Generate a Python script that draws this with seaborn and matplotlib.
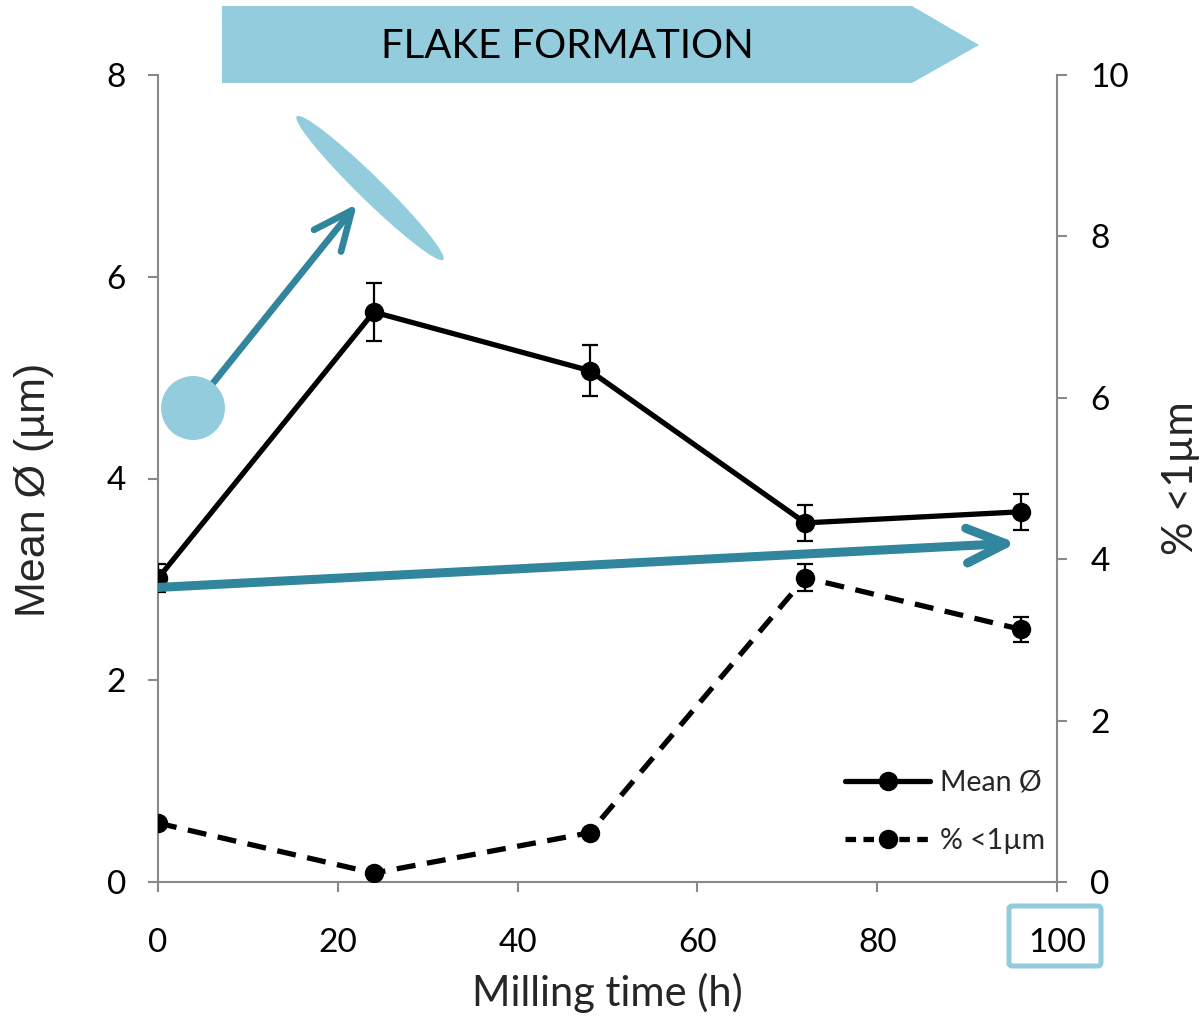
import numpy as np
import pandas as pd
import seaborn as sns
import matplotlib.pyplot as plt
from matplotlib.patches import FancyArrowPatch, Polygon, Circle, Ellipse, FancyBboxPatch
from matplotlib.lines import Line2D

sns.set_style("ticks")
plt.rcParams["font.family"] = ["Lato", "DejaVu Sans"]

# data
milling_h = [0, 24, 48, 72, 96]
mean_um = [3.01, 5.65, 5.07, 3.56, 3.67]
mean_err = [0.14, 0.29, 0.25, 0.18, 0.18]
pct_sub1 = [0.73, 0.11, 0.61, 3.77, 3.13]
pct_err = [0.0, 0.0, 0.0, 0.17, 0.15]

x_ticks = [0, 20, 40, 60, 80, 100]
left_ticks = [0, 2, 4, 6, 8]
right_ticks = [0, 2, 4, 6, 8, 10]

# trend arrow (data coords on left axis)
trend_start = (0, 2.92)
trend_end = (95.5, 3.36)

LIGHT = "#93CDDD"
TEAL = "#31859C"
GREY = "#898989"
LW = 3.8
MS = 14

df = pd.DataFrame({"t": milling_h, "mean": mean_um, "pct": pct_sub1})

fig = plt.figure(figsize=(12.01, 10.17), dpi=100)
ax = fig.add_axes([158 / 1201, 1 - 882 / 1017, 899 / 1201, 807 / 1017])
ax2 = ax.twinx()

# Mean diameter, solid
sns.lineplot(data=df, x="t", y="mean", ax=ax, color="black", lw=LW,
             marker="o", markersize=MS, markeredgewidth=0, zorder=3)
ax.errorbar(milling_h, mean_um, yerr=mean_err, fmt="none", ecolor="black",
            elinewidth=1.6, capsize=6, capthick=1.6, zorder=3)

# % below 1 um, dashed
sns.lineplot(data=df, x="t", y="pct", ax=ax2, color="black", lw=LW,
             linestyle=(0, (3.6, 2.2)), marker="o", markersize=MS,
             markeredgewidth=0, zorder=3)
ax2.errorbar(milling_h, pct_sub1, yerr=pct_err, fmt="none", ecolor="black",
             elinewidth=1.6, capsize=6, capthick=1.6, zorder=3)

ax.set_xlim(0, 100)
ax.set_ylim(0, 8)
ax2.set_ylim(0, 10)
ax.set_xticks(x_ticks)
ax.set_yticks(left_ticks)
ax2.set_yticks(right_ticks)

for a in (ax, ax2):
    a.spines["top"].set_visible(False)
    for s in a.spines.values():
        s.set_color(GREY)
        s.set_linewidth(1.5)
    a.tick_params(colors=GREY, labelcolor="black", length=7, width=1.5, labelsize=24)
ax.spines["right"].set_visible(False)
ax2.spines["left"].set_visible(False)
ax2.spines["bottom"].set_visible(False)
ax.tick_params(axis="x", pad=26)
ax.tick_params(axis="y", pad=16)
ax2.tick_params(axis="y", pad=17)

ax.set_xlabel("Milling time (h)", fontsize=30, labelpad=11)
ax.set_ylabel("Mean Ø (µm)", fontsize=31, family=["Liberation Sans", "DejaVu Sans"])
ax.yaxis.set_label_coords(-0.116, (882 - 490) / 807)
ax2.set_ylabel("% <1µm", fontsize=30, labelpad=24)

# horizontal trend arrow
arr = FancyArrowPatch(trend_start, trend_end, arrowstyle="->,head_length=2.8,head_width=1.25",
                      mutation_scale=10, color=TEAL, lw=6.5, shrinkA=0, shrinkB=0,
                      capstyle="round", joinstyle="round", zorder=5)
ax.add_patch(arr)

# legend
handles = [
    Line2D([], [], color="black", lw=LW, marker="o", markersize=MS, markeredgewidth=0),
    Line2D([], [], color="black", lw=LW, ls=(0, (2.0, 1.4)), marker="o", markersize=MS, markeredgewidth=0),
]
ax2.legend(handles, ["Mean Ø", "% <1µm"], loc="center left",
           bbox_to_anchor=((845 - 158) / 899, (882 - 812) / 807),
           frameon=False, fontsize=20.5, handlelength=3.0, handletextpad=0.35,
           labelspacing=1.15, borderpad=0, borderaxespad=0)
if ax.get_legend() is not None:
    ax.get_legend().remove()

# decorations in pixel space
ov = fig.add_axes([0, 0, 1, 1], zorder=10)
ov.set_xlim(0, 1201)
ov.set_ylim(1017, 0)
ov.axis("off")
ov.patch.set_visible(False)

ov.add_patch(Polygon([(222, 6), (912, 6), (979, 45), (912, 83), (222, 83)],
                     closed=True, facecolor=LIGHT, edgecolor="none"))
ov.text(567, 46, "FLAKE FORMATION", fontsize=29, ha="center", va="center", color="black")

ov.add_patch(Ellipse((370, 188), 205, 24, angle=44.4, facecolor=LIGHT, edgecolor="none"))
ov.add_patch(FancyArrowPatch((193, 408), (357, 204), arrowstyle="->,head_length=2.8,head_width=1.25",
                             mutation_scale=10, color=TEAL, lw=4.8, shrinkA=0, shrinkB=0,
                             capstyle="round", joinstyle="round"))
ov.add_patch(Circle((193, 408), 32, facecolor=LIGHT, edgecolor="none"))

ov.add_patch(FancyBboxPatch((1009, 906), 92, 60, boxstyle="round,pad=0,rounding_size=3",
                            facecolor="none", edgecolor=LIGHT, lw=3.6))

fig.savefig("out.png", dpi=100)
